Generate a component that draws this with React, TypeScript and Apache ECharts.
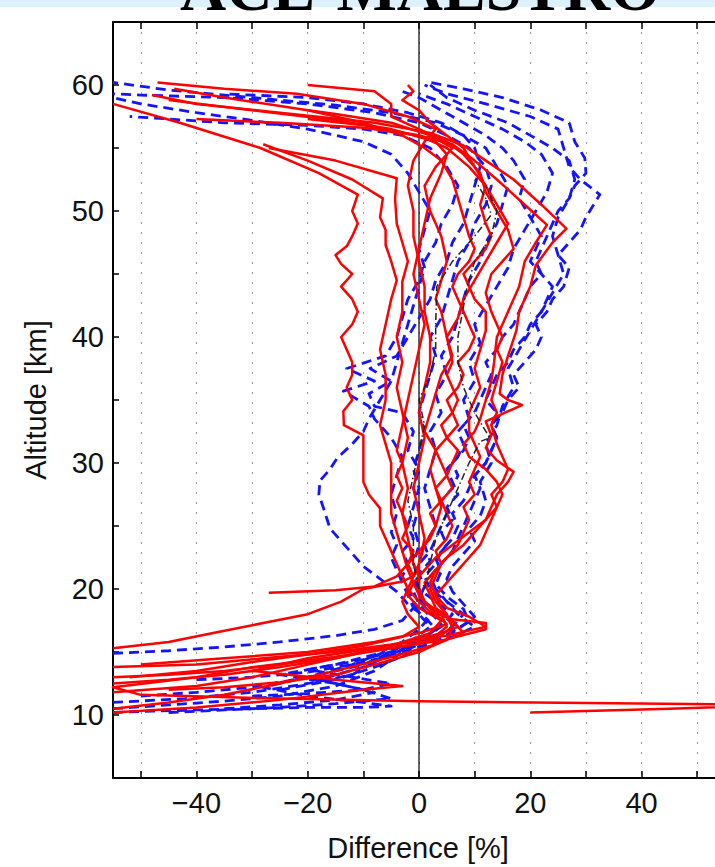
import React, { useEffect, useRef } from "react";
import * as echarts from "echarts";

// ---------- data: [difference %, altitude km] ----------
const xTickLabels = [-40, -20, 0, 20, 40];
const yTickLabels = [10, 20, 30, 40, 50, 60];

const zeroLine = [[0, 5], [0, 65]];

const red1 = [[-55,10.5],[-45,11],[-35,11.6],[-25,12.5],[-15,13.5],[-5,14.6],[3,15.6],[8,16.5],[6,17.5],[3,18.5],[2,19.5],[1,20.5],[3,21.5],[5,22.5],[8,23.5],[10,24.5],[12,25.5],[13,26.5],[14,27.5],[16,28.5],[17,29.3],[14,30.2],[12,31.2],[13,32.2],[12,33.3],[18.5,34.6],[16,35],[14.5,35.5],[15,37],[16,38.5],[17.5,40.5],[18,42],[20,44],[21,45.7],[24,47.5],[26.5,48.6],[22,50.5],[17,52.5],[12,54],[8,55.2],[2,56.2],[-8,57],[-25,57.8],[-40,58.5],[-48,59.2]];
const red2 = [[-55,11.8],[-40,12.3],[-30,13],[-20,14],[-10,15],[-2,15.8],[4,16.5],[7,17],[5,17.8],[2,18.5],[0,19.5],[-1,20.5],[1,21.5],[3,22.5],[6,23.5],[9,24.5],[12,25.5],[14,26.5],[15,27.5],[14,28.5],[12,29.5],[9,30.5],[8,31.5],[10,32.5],[11,33.5],[12,35],[13,36.5],[13.5,38],[14,40],[16,42],[18,44],[19,46],[21,47.5],[23,48.9],[19,50.5],[14,52.5],[10,54],[6,55.3],[0,56],[-10,56.6],[-25,57],[-40,57.3]];
const red3 = [[-52,13],[-40,13.5],[-30,14.2],[-20,14.8],[-10,15.5],[-3,16.2],[0,17],[-2,18],[-3,19],[-2,20],[-3,21],[-4,22],[-5,23],[-6,24],[-7,25],[-7,26.4],[-9,27.5],[-10,28.5],[-10,29.8],[-10,31],[-10,32.2],[-13.5,33],[-13.6,34.1],[-12,35],[-13,36],[-12,37],[-12,38],[-13,39],[-14,40],[-12,41],[-11,42],[-12,43],[-14,44],[-12,45],[-14,45.8],[-15,46.5],[-13,47.2],[-12,48],[-11,49],[-12,50],[-11,51.3],[-18,53],[-28.5,55],[-43,57],[-55,58.5]];
const red4 = [[-55,12.5],[-45,12.8],[-35,13.2],[-25,13.8],[-15,14.5],[-5,15.5],[2,16.5],[4,17.5],[0,18.5],[-2,19.5],[-1,20.5],[-2,21.5],[-3,23],[-4,24.5],[-5,26],[-5,28],[-5,30],[-6,31.5],[-7,33],[-6,35],[-6,37],[-7,39],[-6,41],[-5,43],[-4,44.5],[-5,46],[-6,47.3],[-6,48.5],[-7,49.5],[-6.5,51],[-12,52.5],[-20,54],[-28,55.3]];
const red5 = [[-50,14],[-35,14.5],[-20,15],[-8,15.8],[0,16.5],[5,17.2],[3,18],[1,19],[0,20],[0,21],[-1,22],[-2,24],[-3,26],[-2,28],[-3,30],[-2,32],[-3,34],[-4,36],[-3,38],[-4,40],[-3,42],[-3,44.4],[-2,46],[-3,47.5],[-4,49],[-4.3,51],[-4,52.6],[-15,54],[-27,55]];
const red6 = [[-55,10.2],[-40,10.6],[-25,11.2],[-10,12],[-3,12.3],[-15,12.8],[-30,13.5],[-20,14.5],[-5,15.5],[3,16.3],[5,17],[4,18],[1,19],[0,20],[0,22],[1,24],[0,26],[-1,28],[0,30],[1,32],[0,34],[1,36],[2,38],[2,40],[1,42],[1,44],[0,46],[-1,48],[-1,50],[-2,52],[-1,54],[1,55.5],[3,56.5],[-2,57.5],[-10,58.5],[-22,59.3],[-35,59.7],[-47,60.2]];
const red7 = [[20,10.2],[45,10.5],[65,10.8],[30,10.95],[0,11.1],[-25,11.3],[-50,11.6],[-55,12.2],[-40,13],[-30,13.8],[-15,14.6],[-5,15.3],[3,16],[6,17],[5,18],[3,19],[2,20],[3,21],[4,22],[3,23],[5,24],[6,25],[5,26],[4,27],[6,28],[5,29],[6,30],[7,31],[5,32],[4,33],[6,34],[7,35],[6,36],[5,37],[6,38],[5,40],[4,42],[3,43],[4,44.5],[5,46],[4,48],[2,50],[1,52],[3,53.5],[6,55],[2,56],[-5,57],[-15,57.7],[-20,58]];
const red8 = [[-55,13.8],[-40,14],[-28,14.5],[-15,15],[-5,15.6],[5,16.3],[12,17],[9,17.8],[5,18.5],[3,19.5],[2,20.5],[3,21.5],[5,22.5],[7,23.5],[8,24.5],[9,25.5],[8,26.5],[10,27.5],[9,28.5],[10,29.5],[11,30.5],[10,31.5],[9,32.5],[9,34],[10,35],[11,36],[10,37.5],[11,39],[12,40.5],[12,42],[10,43],[9,44],[8,45],[10,46],[12,47],[13,48],[12,49],[11,50.5],[12,52],[9,53.5],[5,55],[0,56],[-10,56.8],[-20,57.3]];
const red9 = [[-45,12],[-35,12.2],[-25,12.6],[-15,13.2],[-8,14],[0,15],[5,16],[6,17],[5,17.8],[4,18.5],[3,19.5],[5,20.5],[7,21.5],[9,22.5],[11,23.5],[12,24.5],[13,25.5],[14,26.5],[13,27.5],[15,28.5],[16,29.5],[15,30.5],[14,31.5],[13,33],[14,34],[13,35],[14,36.5],[15,38],[14,39],[15,40],[14,41],[13,42],[12,43.5],[13,45],[15,46],[17,47],[16,48.5],[14,50],[12,51.5],[11,53],[8,54.5],[5,55.5],[0,56.5],[-5,57.5],[-5,58.5],[-8,59.5],[-20,60]];
const red10 = [[-55,15.3],[-45,15.8],[-37,16.5],[-28,17.3],[-20,18],[-14,19],[-10,20],[-3,20.6],[-1,21],[-2,22],[-1,23],[-3,24],[-2,25],[-3,26],[-4,27],[-3,28],[-4,29],[-3,30],[-4,31],[-3,33],[-2,35],[-1,37],[0,39],[1,41],[0,43],[-1,45],[0,47],[1,49],[2,51],[4,53],[5,54.5],[3,55.5],[-5,56.5],[-15,57.2],[-30,58],[-45,58.8]];
const red11 = [[-27,19.7],[-15,19.9],[-8,20.2],[-4,21],[-2,22],[0,23],[2,24],[3,25],[2,26],[4,27],[3,28],[5,29],[4,30],[3,31],[5,32],[7,33],[6,34],[5,35],[7,36],[8,37],[7,38],[9,39],[10,40],[9,41],[8,42],[7,43],[6,44],[7,45],[9,46],[10,47],[9,48],[8,49.5],[7,51],[6,52.5],[4,54],[1,55],[-3,56],[-10,57],[-20,58],[-35,59],[-44,59.7]];
const red12 = [[-55,13],[-45,13.2],[-35,13.5],[-25,14],[-15,14.6],[-5,15.3],[5,16],[12,16.8],[12,17.3],[6,17.6],[2,18.2],[0,19],[-2,20],[-1,21],[0,22],[1,23.5],[3,25],[4,26.5],[3,28],[2,29.5],[3,31],[1,32.5],[2,34],[3,35.5],[4,37],[6,38.5],[5,40],[7,41.5],[8,43],[10,44.5],[12,46],[14,47.5],[16,49],[14,50.5],[12,52],[10,53.5],[8,55],[5,56],[2,57],[0,58],[-3,58.8],[-1,59.5],[-2,60]];

const blue1 = [[-55,10.5],[-45,10.8],[-35,11.1],[-25,11.5],[-15,12.3],[-8,13.5],[-3,15],[2,16],[6,17],[8,18],[5,19],[2,20],[1,21],[3,22],[4,23],[6,24],[7,25],[6,26],[8,27],[9,28],[10,29],[12,30],[13,31],[14,32],[13,33],[15,34],[16,35],[18,36],[17,37],[19,38],[21,39],[22,40],[21,41],[23,42],[24,43],[26,44],[27,45.5],[25,46.5],[27,47.5],[29,48.5],[30,49.5],[32.5,51.3],[29,52.5],[27,53.5],[26,55],[25,56.5],[20,57.5],[12,58.5],[5,59.3],[1,60]];
const blue2 = [[-50,11.5],[-40,11.8],[-30,12.2],[-20,13],[-12,14],[-5,15.2],[0,16],[4,17],[6,18],[3,19],[0,20],[-1,21],[0,22],[2,23],[3,24],[4,25],[5,26],[4,27],[6,28],[7,29],[6,30],[8,31],[9,32],[8,33],[10,34],[11,35],[12,36],[13,37],[12,38],[14,39],[15,40],[17,41],[18,42],[19,43],[20,44],[22,45],[21,46],[22,47],[23,48],[24,49],[25,50],[27,51],[28,52],[30,53],[29.8,54.2],[28,55.5],[27,57],[22,58],[15,59],[8,59.7],[2,60.2]];
const blue3 = [[-55,14.9],[-45,15.1],[-35,15.4],[-25,15.8],[-15,16.3],[-8,16.8],[-3,17.5],[-1,18.5],[-2,19.5],[-3,20.5],[-4,21.5],[-5,22.5],[-4,23.5],[-5,24.5],[-4,26],[-5,27.5],[-4,29],[-3,30.5],[-5,32],[-8,33.5],[-9,34.5],[-13.6,35.7],[-8,36.5],[-13,37.5],[-6,38.5],[-4,40],[-3,41.5],[-2,43],[0,44.5],[1,46],[3,47.5],[4,49],[6,50.5],[7,52],[5,53.5],[2,55],[-3,56],[-10,56.5],[-20,56.8],[-35,57],[-45,57.3],[-52,57.5]];
const blue4 = [[-45,10.2],[-35,10.4],[-25,10.6],[-15,10.9],[-5,11.3],[-10,12],[-18,12.8],[-10,13.8],[-5,14.8],[0,15.8],[3,16.8],[1,17.8],[-2,18.8],[-4,19.8],[-7,20.8],[-10,21.8],[-12,22.8],[-14,23.8],[-16,24.8],[-17,26.2],[-18,27.5],[-17.8,28.6],[-16,29.5],[-14.7,30.4],[-12,31.5],[-10,32.5],[-9,33.5],[-7,35],[-5,36.5],[-4,38],[-3,39.5],[-2,41],[-1,42.5],[0,44],[1,45.5],[0,47],[1,48.5],[2,50],[0,51.5],[-2,53],[-5,54.5],[-10,55.5],[-20,56.5],[-30,57.2],[-40,57.8],[-50,58.5],[-55,59]];
const blue5 = [[-55,11],[-42,11.3],[-30,11.8],[-20,12.5],[-12,13.2],[-8,14.2],[-3,15.2],[2,16.2],[4,17.2],[2,18.2],[0,19.2],[1,20.2],[0,21.2],[2,22.2],[1,23.5],[3,25],[2,26.5],[1,28],[2,29.5],[3,31],[2,32.5],[4,34],[3,35.5],[5,37],[4,38.5],[6,40],[7,41.5],[8,43],[9,44.5],[11,46],[12,47.5],[14,49],[15,50.5],[16,52],[14,53.5],[12,55],[8,56],[3,57],[-5,57.8],[-15,58.4],[-30,59],[-45,59.6],[-55,60.2]];
const blue6 = [[-40,12.8],[-30,13],[-20,13.4],[-12,14],[-6,14.6],[0,15.4],[6,16.2],[10,17],[7,18],[5,19],[3,20],[2,21],[4,22],[6,23],[7,24],[8,25],[9,26],[10,27],[11,28],[10,29],[12,30],[13,31],[14,32],[13,33],[14,34],[12,35],[13,36],[14,37],[16,38],[17,39],[19,40],[20,41],[22,42],[23,43],[24,44],[22,45],[20,46],[21,47],[22,48],[20,49.5],[18,51],[19,52.5],[17,54],[15,55],[12,56],[8,57],[4,58],[0,59],[-3,59.5]];
const blue7 = [[-35,10.5],[-25,10.8],[-15,11.2],[-8,11.8],[-15,12.5],[-25,13.2],[-15,14],[-8,14.8],[-3,15.8],[0,16.8],[2,17.8],[0,18.8],[-1,19.8],[0,20.8],[-1,22],[0,23.5],[-1,25],[0,26.5],[-1,28],[0,29.5],[-2,31],[-1,32.5],[-3,34],[-8,34.5],[-9,35.5],[-5,36.5],[-8.8,37.5],[-4,38.5],[-2,40],[0,41.5],[2,43],[3,44.5],[5,46],[6,47.5],[8,49],[9,50.5],[10,52],[11,53.5],[10,55],[8,56],[4,57],[-2,57.8],[-10,58.5],[-20,59],[-35,59.3]];
const blue8 = [[-30,11.5],[-20,11.7],[-10,12],[-5,12.5],[-12,13],[-20,13.6],[-10,14.4],[-2,15.4],[5,16.4],[9,17.4],[8,18.4],[5,19.4],[3,20.4],[4,21.4],[3,22.4],[5,23.5],[4,24.5],[6,25.5],[5,26.5],[7,27.5],[6,28.5],[5,29.5],[7,30.5],[8,31.5],[7,32.5],[9,33.5],[8,35],[10,36.5],[9,38],[11,39.5],[10,41],[12,42.5],[14,44],[16,45.5],[17,47],[19,48.5],[21,50],[23,51.5],[24,53],[22,54.5],[19,55.5],[15,56.5],[10,57.5],[5,58.5],[0,59.3]];
const blue9 = [[-55,10.2],[-48,10.3],[-40,10.4],[-30,10.5],[-20,10.6],[-10,10.6],[-5,10.7],[-10,11],[-20,11.5],[-28,12.2],[-20,13],[-10,14],[-5,15],[-1,16],[2,17],[0,18],[-1,19],[-2,20],[-3,21],[-2,22],[-3,23],[-1,24],[-2,25],[-1,26.5],[0,28],[-1,29.5],[0,31],[1,32.5],[0,34],[1,35.5],[2,37],[3,38.5],[2,40],[4,41.5],[5,43],[6,44.5],[7,46],[9,47.5],[10,49],[12,50.5],[13,52],[12,53.5],[9,55],[5,56],[0,57],[-8,57.8],[-20,58.5],[-35,59],[-50,59.2],[-55,59.3]];
const blue10 = [[-25,12],[-15,12.8],[-8,13.8],[-2,14.8],[3,15.8],[7,16.8],[10,17.8],[8,18.8],[6,19.8],[5,20.8],[6,21.8],[8,22.8],[10,23.8],[9,24.8],[11,25.8],[12,27],[11,28.5],[13,30],[12,31.5],[14,33],[15,34.5],[17,36],[16,37.5],[18,39],[20,40.5],[22,42],[24,43.5],[26,45],[25,46.5],[24,48],[25,49.5],[27,51],[28,52.5],[27,54],[24,55],[20,56],[16,57],[10,58],[5,59],[2,60]];

const black1 = [[0,20],[-1,22],[-1,25],[-2,27],[-1,29],[0,31],[1,33],[0,35],[2,37],[3,39],[3,41],[3.2,44],[6,46],[10,48],[13,49.7],[12,51],[10,52.5]];
const black2 = [[1,20],[2,22],[3,24],[5,26],[7,28],[9,30],[11,31.7],[12.7,32],[10,34],[8,36],[7,38],[7,40],[8.6,43.9],[10,46],[13,48],[14,50],[12,52]];

const redProfiles = [red1, red2, red3, red4, red5, red6, red7, red8, red9, red10, red11, red12];
const blueProfiles = [blue1, blue2, blue3, blue4, blue5, blue6, blue7, blue8, blue9, blue10];
const blackProfiles = [black1, black2];

const FONT = '"Liberation Sans", Arial, Helvetica, sans-serif';

export default function App() {
  const ref = useRef<HTMLDivElement>(null);
  useEffect(() => {
    document.body.style.margin = "0";
    const chart = echarts.init(ref.current!, null, { renderer: "svg" });
    const lineSeries = (data: number[][], color: string, width: number, type: any, z: number) => ({
      type: "line",
      data,
      showSymbol: false,
      symbol: "none",
      clip: true,
      z,
      lineStyle: { color, width, type, cap: "butt", join: "round" },
      silent: true,
    });
    const series: any[] = [];
    series.push(lineSeries(zeroLine, "#000", 1.2, "solid", 1));
    blueProfiles.forEach((d) => series.push(lineSeries(d, "#1414ff", 2.8, [10, 6], 2)));
    redProfiles.forEach((d) => series.push(lineSeries(d, "#ff0000", 2.5, "solid", 3)));
    blackProfiles.forEach((d) => series.push(lineSeries(d, "#222", 1.5, [7, 3, 1.5, 3], 4)));

    const xAxisBase = {
      type: "value",
      min: -55,
      max: 55,
      minInterval: 10,
      maxInterval: 10,
      axisLine: { show: true, onZero: false, lineStyle: { color: "#000", width: 2 } },
      axisTick: { show: true, inside: true, length: 7, lineStyle: { color: "#000", width: 1.5 } },
    };
    chart.setOption({
      animation: false,
      backgroundColor: "#fff",
      grid: { left: 113, top: 22, width: 612, height: 756, outerBoundsMode: "none", containLabel: false },
      xAxis: [
        {
          ...xAxisBase,
          position: "bottom",
          axisLabel: {
            show: true,
            margin: 10,
            fontSize: 29,
            fontFamily: FONT,
            color: "#111",
            formatter: (v: number) =>
              xTickLabels.includes(v) ? (v < 0 ? "\u2212" + Math.abs(v) : String(v)) : "",
          },
          splitLine: { show: true, lineStyle: { color: "#999", width: 1, type: [2, 8] } },
        },
        {
          ...xAxisBase,
          position: "top",
          axisLabel: { show: false },
          splitLine: { show: false },
        },
      ],
      yAxis: [
        {
          type: "value",
          min: 5,
          max: 65,
          minInterval: 5,
          maxInterval: 5,
          position: "left",
          axisLine: { show: true, onZero: false, lineStyle: { color: "#000", width: 2 } },
          axisTick: { show: true, inside: true, length: 6, lineStyle: { color: "#000", width: 1.5 } },
          axisLabel: {
            show: true,
            margin: 9,
            fontSize: 29,
            fontFamily: FONT,
            color: "#111",
            formatter: (v: number) => (yTickLabels.includes(v) ? String(v) : ""),
          },
          splitLine: { show: false },
        },
      ],
      series,
      graphic: [
        { type: "rect", shape: { x: 0, y: 0, width: 715, height: 7 }, style: { fill: "#dcf1fb" }, z: 10 },
        {
          type: "text",
          x: 420,
          y: -12,
          z: 11,
          style: {
            text: "ACE-MAESTRO",
            font: 'bold 64px "Liberation Serif", "Times New Roman", serif',
            fill: "#000",
            align: "center",
            verticalAlign: "middle",
          },
        },
        {
          type: "text",
          x: 418,
          y: 848,
          style: {
            text: "Difference [%]",
            font: `29px ${FONT}`,
            fill: "#111",
            align: "center",
            verticalAlign: "middle",
          },
        },
        {
          type: "text",
          x: 36,
          y: 400,
          rotation: Math.PI / 2,
          style: {
            text: "Altitude [km]",
            font: `29px ${FONT}`,
            fill: "#111",
            align: "center",
            verticalAlign: "middle",
          },
        },
      ],
    });
    return () => chart.dispose();
  }, []);
  return (
    <div
      ref={ref}
      style={{ position: "fixed", left: 0, top: 0, width: 715, height: 867, overflow: "hidden", background: "#fff" }}
    />
  );
}
